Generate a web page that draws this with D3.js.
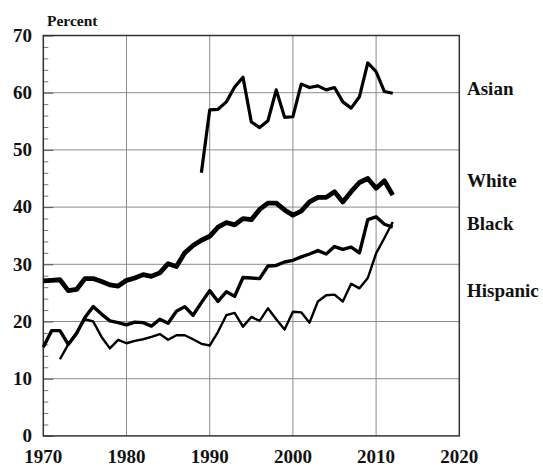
<!DOCTYPE html>
<html>
<head>
<meta charset="utf-8">
<script src="https://cdn.jsdelivr.net/npm/d3@7"></script>
<style>
html,body{margin:0;padding:0;background:#fff;}
svg text{font-family:"Liberation Serif","Times New Roman",serif;font-weight:bold;fill:#111;}
</style>
</head>
<body>
<svg id="chart" width="543" height="467"></svg>
<script>
const years = d3.range(1970, 2013);
const asianYears = d3.range(1989, 2013);
const hispanicYears = d3.range(1972, 2013);

const white = [27.1,27.2,27.3,25.4,25.6,27.5,27.5,27.0,26.4,26.2,27.2,27.6,28.2,27.9,28.5,30.1,29.6,32.0,33.3,34.2,34.9,36.5,37.3,36.9,38.0,37.8,39.6,40.7,40.7,39.5,38.6,39.3,40.9,41.7,41.7,42.7,40.9,42.7,44.3,45.0,43.3,44.6,42.1];
const black = [15.5,18.4,18.4,16.0,17.9,20.7,22.6,21.3,20.1,19.8,19.4,19.9,19.8,19.2,20.4,19.7,21.8,22.6,21.1,23.3,25.4,23.5,25.2,24.4,27.7,27.6,27.5,29.7,29.8,30.4,30.7,31.3,31.8,32.4,31.8,33.1,32.6,33.0,32.0,37.8,38.3,37.0,36.5];
const hispanic = [13.4,16.0,18.1,20.4,20.0,17.3,15.3,16.8,16.2,16.6,16.9,17.3,17.8,16.8,17.6,17.6,16.9,16.1,15.8,18.2,21.1,21.5,19.1,20.8,20.1,22.3,20.4,18.6,21.7,21.6,19.8,23.5,24.6,24.7,23.5,26.6,25.8,27.6,31.9,34.6,37.4];
const asian = [46.0,57.0,57.1,58.4,61.0,62.7,54.9,53.9,55.1,60.5,55.7,55.8,61.5,60.9,61.2,60.5,60.9,58.4,57.3,59.3,65.2,63.7,60.2,59.9];

const xTicks = [1970,1980,1990,2000,2010,2020];
const yTicks = [0,10,20,30,40,50,60,70];
const seriesNames = ["Asian","White","Black","Hispanic"];
const labelValues = [59.6,43.6,36.0,24.3];

const svg = d3.select("#chart");
const L = 43.3, R = 459.3, T = 35.5, B = 435.9;
const x = d3.scaleLinear().domain([1970, 2020]).range([L, R]);
const y = d3.scaleLinear().domain([0, 70]).range([B, T]);

// grid
const g = svg.append("g");
g.selectAll("line.vg").data(xTicks.slice(1, -1)).join("line")
  .attr("x1", d => x(d)).attr("x2", d => x(d)).attr("y1", T).attr("y2", B)
  .attr("stroke", "#8c8c8c").attr("stroke-width", 1);
g.selectAll("line.hg").data(yTicks.slice(1, -1)).join("line")
  .attr("x1", L).attr("x2", R).attr("y1", d => y(d)).attr("y2", d => y(d))
  .attr("stroke", "#8c8c8c").attr("stroke-width", 1);

// y axis with inner minor ticks
const yMinor = d3.axisRight(y).tickValues(d3.range(0, 71, 2).filter(v => v % 10 !== 0)).tickSize(5).tickFormat("");
const ym = svg.append("g").attr("transform", `translate(${L},0)`).call(yMinor);
ym.select(".domain").remove();
ym.selectAll(".tick line").attr("stroke", "#777");
const yMajor = d3.axisRight(y).tickValues(yTicks).tickSize(10).tickFormat("");
const yM = svg.append("g").attr("transform", `translate(${L},0)`).call(yMajor);
yM.select(".domain").remove();
yM.selectAll(".tick line").attr("stroke", "#555");

// frame
svg.append("rect").attr("x", L).attr("y", T).attr("width", R - L).attr("height", B - T)
  .attr("fill", "none").attr("stroke", "#333").attr("stroke-width", 1.5);

// y labels
svg.selectAll("text.yl").data(yTicks).join("text")
  .attr("x", 32).attr("y", d => y(d) + 6.3)
  .attr("text-anchor", "end").attr("font-size", 19).text(d => d);

// x labels
svg.selectAll("text.xl").data(xTicks).join("text")
  .attr("x", d => x(d)).attr("y", 463)
  .attr("text-anchor", "middle").attr("font-size", 19).text(d => d);

svg.append("text").attr("x", 47).attr("y", 26).attr("font-size", 15.5).text("Percent");

// lines
const line = d3.line().x(d => x(d[0])).y(d => y(d[1]));
const series = [
  {name: "Asian", yrs: asianYears, vals: asian, w: 3.2},
  {name: "White", yrs: years, vals: white, w: 4.8},
  {name: "Black", yrs: years, vals: black, w: 3.4},
  {name: "Hispanic", yrs: hispanicYears, vals: hispanic, w: 2.4}
];
series.forEach(s => {
  svg.append("path").datum(s.yrs.map((yr, i) => [yr, s.vals[i]]))
    .attr("d", line).attr("fill", "none").attr("stroke", "#000")
    .attr("stroke-width", s.w).attr("stroke-linejoin", "round").attr("stroke-linecap", "butt");
});

// series labels
svg.selectAll("text.sl").data(seriesNames).join("text")
  .attr("x", 467).attr("y", (d, i) => y(labelValues[i]))
  .attr("font-size", 19).text(d => d);
</script>
</body>
</html>
